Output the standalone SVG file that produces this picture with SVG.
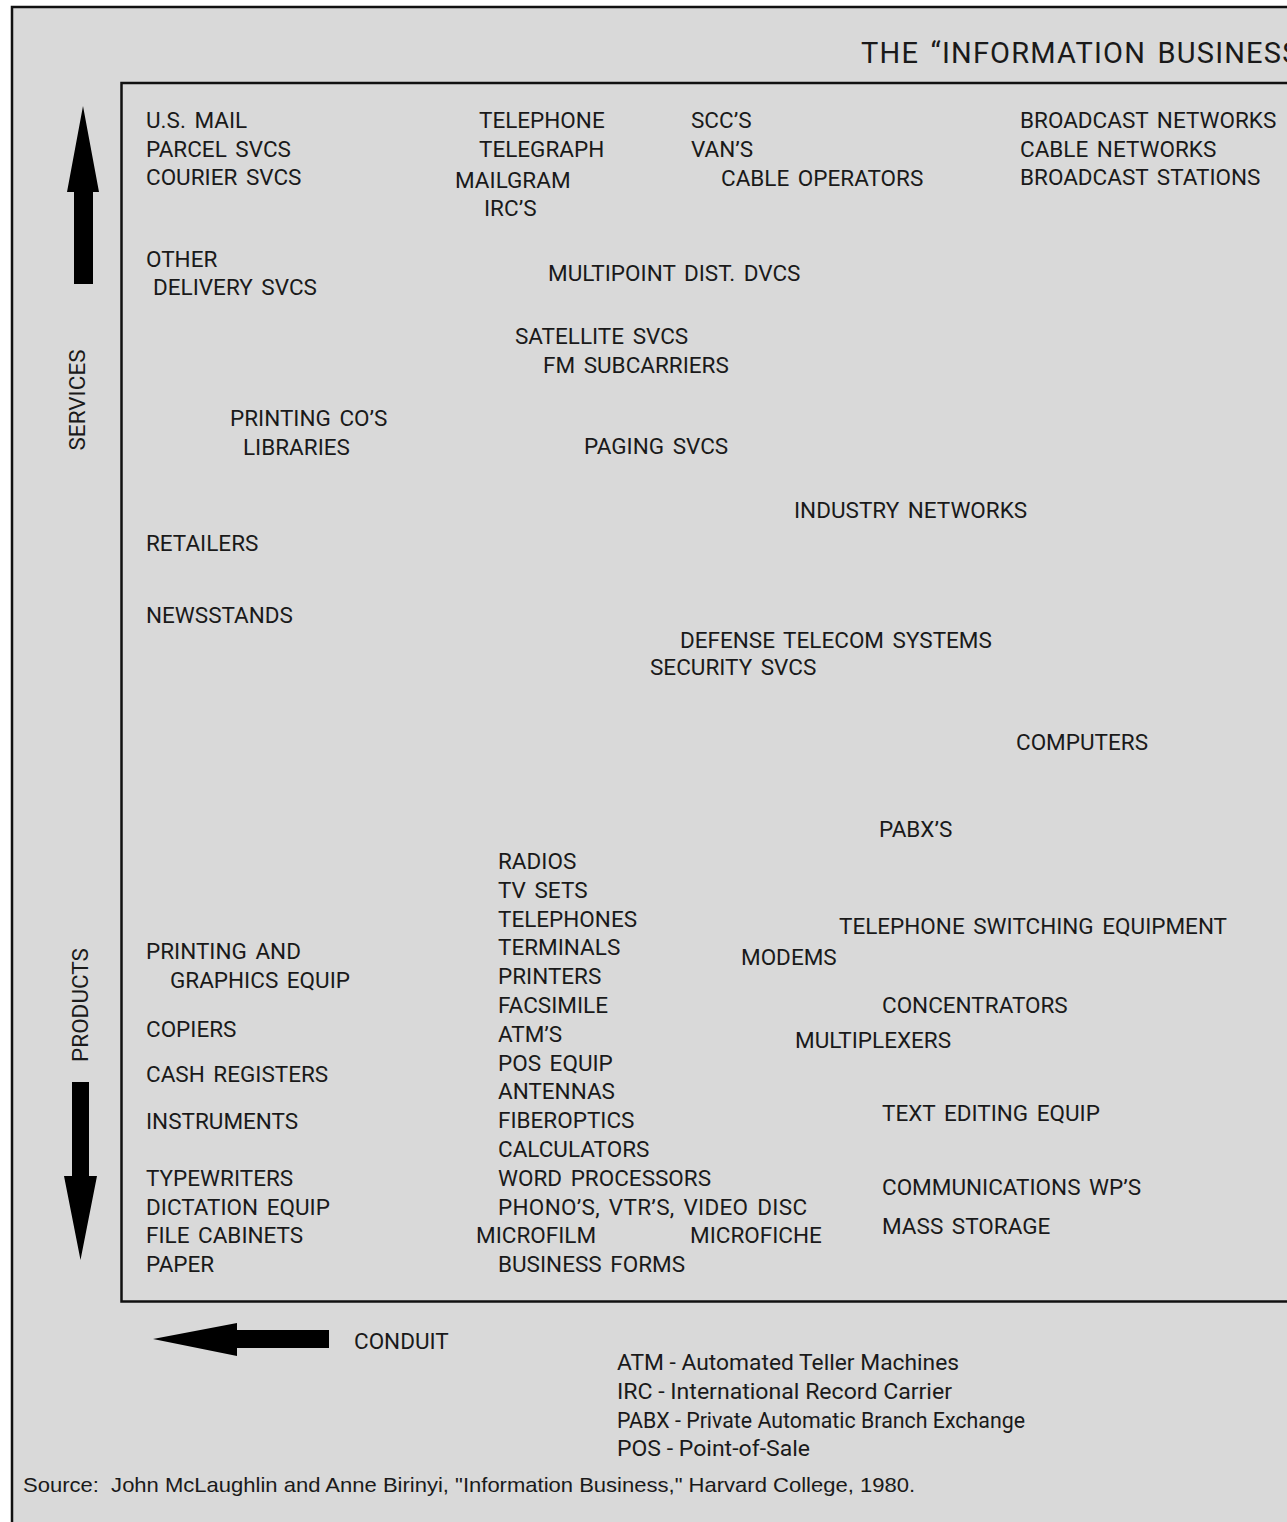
<svg xmlns="http://www.w3.org/2000/svg" width="1287" height="1522" viewBox="0 0 1287 1522">
<style>
  .t { font-family: Roboto, "Liberation Sans", sans-serif; font-size: 22.5px; fill: #1a1a1a; word-spacing: 3px; }
  .title { font-family: Roboto, "Liberation Sans", sans-serif; font-size: 29px; fill: #1a1a1a; letter-spacing: 1.2px; word-spacing: 3px; }
  .axis { font-family: Roboto, "Liberation Sans", sans-serif; font-size: 22.5px; fill: #1a1a1a; text-anchor: middle; }
  .leg { font-family: Roboto, "Liberation Sans", sans-serif; font-size: 22px; fill: #1a1a1a; }
  .src { font-family: "Liberation Sans", sans-serif; font-size: 21px; fill: #1a1a1a; }
  .frame { fill: none; stroke: #111; stroke-width: 2.5; }
  .arrow { fill: #000; }
</style>
<rect x="0" y="0" width="1287" height="1522" fill="#ffffff"/>
<rect x="12" y="7" width="1300" height="1540" fill="#d9d9d9"/>
<g id="frames">
  <rect class="frame" x="12" y="7" width="1300" height="1540"/>
  <rect class="frame" x="121.5" y="83" width="1200" height="1218.5"/>
</g>
<g id="title"><text class="title" x="861" y="63">THE “INFORMATION BUSINESS</text></g>
<g id="connectors">
  <polygon id="arrow-services" class="arrow" points="83,106 99,192 93,192 93,284 74,284 74,192 67,192"/>
  <polygon id="arrow-products" class="arrow" points="80.5,1260 97,1176 89,1176 89,1082 72,1082 72,1176 64,1176"/>
  <polygon id="arrow-conduit" class="arrow" points="153,1339 237,1323 237,1330 329,1330 329,1348 237,1348 237,1356"/>
</g>
<g id="axis-labels">
  <text id="services" class="axis" transform="translate(85,400) rotate(-90)">SERVICES</text>
  <text id="products" class="axis" transform="translate(88,1005) rotate(-90)">PRODUCTS</text>
  <text id="conduit" class="t" x="354" y="1349">CONDUIT</text>
</g>
<g id="n-usmail"><text class="t" x="146" y="128" word-spacing="5">U.S. MAIL</text></g>
<g id="n-parcel"><text class="t" x="146" y="157">PARCEL SVCS</text></g>
<g id="n-courier"><text class="t" x="146" y="185">COURIER SVCS</text></g>
<g id="n-telephone"><text class="t" x="479" y="128">TELEPHONE</text></g>
<g id="n-telegraph"><text class="t" x="479" y="157">TELEGRAPH</text></g>
<g id="n-mailgram"><text class="t" x="455" y="188">MAILGRAM</text></g>
<g id="n-ircs"><text class="t" x="484" y="216">IRC’S</text></g>
<g id="n-sccs"><text class="t" x="691" y="128">SCC’S</text></g>
<g id="n-vans"><text class="t" x="691" y="157">VAN’S</text></g>
<g id="n-cableops"><text class="t" x="721" y="186">CABLE OPERATORS</text></g>
<g id="n-bnet"><text class="t" x="1020" y="128">BROADCAST NETWORKS</text></g>
<g id="n-cnet"><text class="t" x="1020" y="157">CABLE NETWORKS</text></g>
<g id="n-bstat"><text class="t" x="1020" y="185">BROADCAST STATIONS</text></g>
<g id="n-other"><text class="t" x="146" y="267">OTHER</text></g>
<g id="n-delivery"><text class="t" x="153" y="295">DELIVERY SVCS</text></g>
<g id="n-multipoint"><text class="t" x="548" y="281">MULTIPOINT DIST. DVCS</text></g>
<g id="n-satellite"><text class="t" x="515" y="344">SATELLITE SVCS</text></g>
<g id="n-fm"><text class="t" x="543" y="373">FM SUBCARRIERS</text></g>
<g id="n-printingcos"><text class="t" x="230" y="426">PRINTING CO’S</text></g>
<g id="n-libraries"><text class="t" x="243" y="455">LIBRARIES</text></g>
<g id="n-paging"><text class="t" x="584" y="454">PAGING SVCS</text></g>
<g id="n-industry"><text class="t" x="794" y="518">INDUSTRY NETWORKS</text></g>
<g id="n-retailers"><text class="t" x="146" y="551">RETAILERS</text></g>
<g id="n-newsstands"><text class="t" x="146" y="623">NEWSSTANDS</text></g>
<g id="n-defense"><text class="t" x="680" y="648" word-spacing="6">DEFENSE TELECOM SYSTEMS</text></g>
<g id="n-security"><text class="t" x="650" y="675">SECURITY SVCS</text></g>
<g id="n-computers"><text class="t" x="1016" y="750">COMPUTERS</text></g>
<g id="n-pabx"><text class="t" x="879" y="837">PABX’S</text></g>
<g id="n-radios"><text class="t" x="498" y="869">RADIOS</text></g>
<g id="n-tvsets"><text class="t" x="498" y="898">TV SETS</text></g>
<g id="n-telephones"><text class="t" x="498" y="927">TELEPHONES</text></g>
<g id="n-terminals"><text class="t" x="498" y="955">TERMINALS</text></g>
<g id="n-printers"><text class="t" x="498" y="984">PRINTERS</text></g>
<g id="n-facsimile"><text class="t" x="498" y="1013">FACSIMILE</text></g>
<g id="n-atms"><text class="t" x="498" y="1042">ATM’S</text></g>
<g id="n-pos"><text class="t" x="498" y="1071" word-spacing="5">POS EQUIP</text></g>
<g id="n-antennas"><text class="t" x="498" y="1099">ANTENNAS</text></g>
<g id="n-fiber"><text class="t" x="498" y="1128">FIBEROPTICS</text></g>
<g id="n-calc"><text class="t" x="498" y="1157">CALCULATORS</text></g>
<g id="n-wordproc"><text class="t" x="498" y="1186">WORD PROCESSORS</text></g>
<g id="n-phono"><text class="t" x="498" y="1215" word-spacing="6" letter-spacing="0.3">PHONO’S, VTR’S, VIDEO DISC</text></g>
<g id="n-microfilm"><text class="t" x="476" y="1243">MICROFILM</text></g>
<g id="n-microfiche"><text class="t" x="690" y="1243">MICROFICHE</text></g>
<g id="n-forms"><text class="t" x="498" y="1272">BUSINESS FORMS</text></g>
<g id="n-printingand"><text class="t" x="146" y="959">PRINTING AND</text></g>
<g id="n-graphics"><text class="t" x="170" y="988">GRAPHICS EQUIP</text></g>
<g id="n-copiers"><text class="t" x="146" y="1037">COPIERS</text></g>
<g id="n-cash"><text class="t" x="146" y="1082">CASH REGISTERS</text></g>
<g id="n-instruments"><text class="t" x="146" y="1129">INSTRUMENTS</text></g>
<g id="n-typewriters"><text class="t" x="146" y="1186">TYPEWRITERS</text></g>
<g id="n-dictation"><text class="t" x="146" y="1215" word-spacing="3">DICTATION EQUIP</text></g>
<g id="n-file"><text class="t" x="146" y="1243">FILE CABINETS</text></g>
<g id="n-paper"><text class="t" x="146" y="1272">PAPER</text></g>
<g id="n-switching"><text class="t" x="839" y="934" word-spacing="5">TELEPHONE SWITCHING EQUIPMENT</text></g>
<g id="n-modems"><text class="t" x="741" y="965">MODEMS</text></g>
<g id="n-concentrators"><text class="t" x="882" y="1013">CONCENTRATORS</text></g>
<g id="n-multiplexers"><text class="t" x="795" y="1048">MULTIPLEXERS</text></g>
<g id="n-textedit"><text class="t" x="882" y="1121" word-spacing="5">TEXT EDITING EQUIP</text></g>
<g id="n-commwp"><text class="t" x="882" y="1195">COMMUNICATIONS WP’S</text></g>
<g id="n-mass"><text class="t" x="882" y="1234">MASS STORAGE</text></g>
<g id="legend">
  <text class="leg" x="617" y="1370" textLength="342" lengthAdjust="spacingAndGlyphs">ATM - Automated Teller Machines</text>
  <text class="leg" x="617" y="1399" textLength="335" lengthAdjust="spacingAndGlyphs">IRC - International Record Carrier</text>
  <text class="leg" x="617" y="1428" textLength="408" lengthAdjust="spacingAndGlyphs">PABX - Private Automatic Branch Exchange</text>
  <text class="leg" x="617" y="1456" textLength="193" lengthAdjust="spacingAndGlyphs">POS - Point-of-Sale</text>
</g>
<g id="source"><text class="src" x="23" y="1492" textLength="892" lengthAdjust="spacingAndGlyphs" xml:space="preserve">Source:  John McLaughlin and Anne Birinyi, "Information Business," Harvard College, 1980.</text></g>
</svg>
